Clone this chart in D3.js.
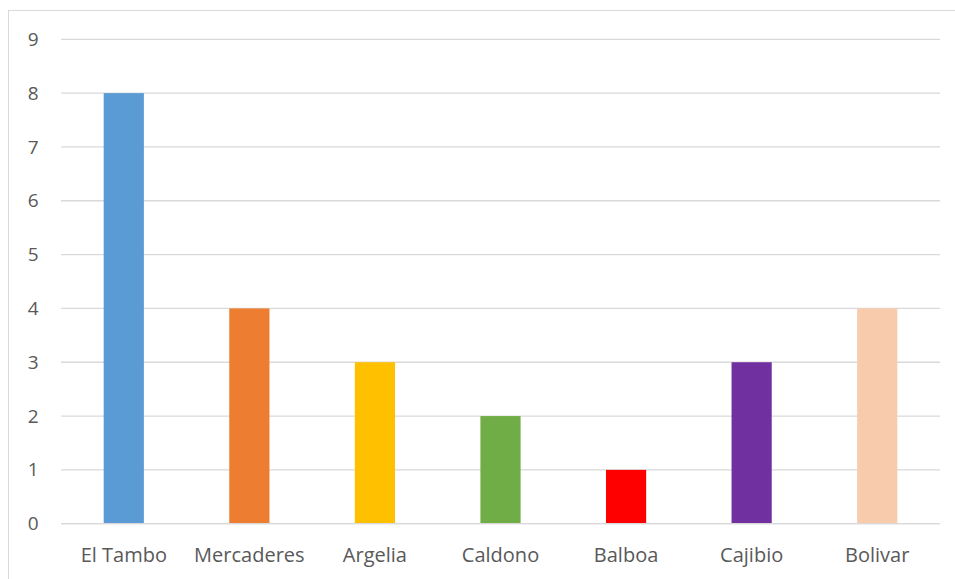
<!DOCTYPE html>
<html>
<head>
<meta charset="utf-8">
<script src="https://cdn.jsdelivr.net/npm/d3@7"></script>
<style>
  html, body { margin: 0; padding: 0; background: #fff; }
  svg { display: block; }
  text { font-family: "Open Sans", "Noto Sans", sans-serif; fill: #595959; }
</style>
</head>
<body>
<svg id="chart" width="955" height="579"></svg>
<script>
const categories = ["El Tambo", "Mercaderes", "Argelia", "Caldono", "Balboa", "Cajibio", "Bolivar"];
const values = [8, 4, 3, 2, 1, 3, 4];
const barColors = ["#5B9BD5", "#ED7D31", "#FFC000", "#70AD47", "#FF0000", "#7030A0", "#F8CBAD"];
const yTicks = [0, 1, 2, 3, 4, 5, 6, 7, 8, 9];

const svg = d3.select("#chart");

// outer chart frame
svg.append("rect")
  .attr("x", 8.5).attr("y", 10.5)
  .attr("width", 960).attr("height", 600)
  .attr("fill", "none").attr("stroke", "#d9d9d9").attr("stroke-width", 1);

const plotLeft = 61, plotRight = 940, plotTop = 39.3, plotBottom = 523.7;

const x = d3.scaleBand().domain(categories).range([plotLeft, plotRight]).paddingInner(0.68).paddingOuter(0.34);
const y = d3.scaleLinear().domain([0, 9]).range([plotBottom, plotTop]);

// horizontal gridlines
svg.append("g")
  .selectAll("line")
  .data(yTicks)
  .join("line")
  .attr("x1", plotLeft).attr("x2", plotRight)
  .attr("y1", d => y(d)).attr("y2", d => y(d))
  .attr("stroke", "#d9d9d9").attr("stroke-width", 1.3);

// y-axis labels
const yAxis = d3.axisLeft(y).tickValues(yTicks).tickSize(0).tickPadding(0);
const gy = svg.append("g").attr("transform", "translate(38.5,0)").call(yAxis);
gy.select(".domain").remove();
gy.selectAll("text")
  .attr("font-size", 19)
  .style("font-family", "'Open Sans', sans-serif")
  .attr("fill", "#595959");

// bars
svg.append("g")
  .selectAll("rect")
  .data(categories)
  .join("rect")
  .attr("x", d => x(d))
  .attr("width", x.bandwidth())
  .attr("y", (d, i) => y(values[i]))
  .attr("height", (d, i) => y(0) - y(values[i]))
  .attr("fill", (d, i) => barColors[i]);

// baseline drawn over bars
svg.append("line")
  .attr("x1", plotLeft).attr("x2", plotRight)
  .attr("y1", y(0)).attr("y2", y(0))
  .attr("stroke", "#d9d9d9").attr("stroke-width", 1.3);

// category labels
const xAxis = d3.axisBottom(x).tickSize(0).tickPadding(0);
const gx = svg.append("g").attr("transform", `translate(0,${y(0) + 24.3})`).call(xAxis);
gx.select(".domain").remove();
gx.selectAll("text")
  .attr("font-size", 20)
  .style("font-family", "'Open Sans', sans-serif")
  .attr("fill", "#595959");
</script>
</body>
</html>
